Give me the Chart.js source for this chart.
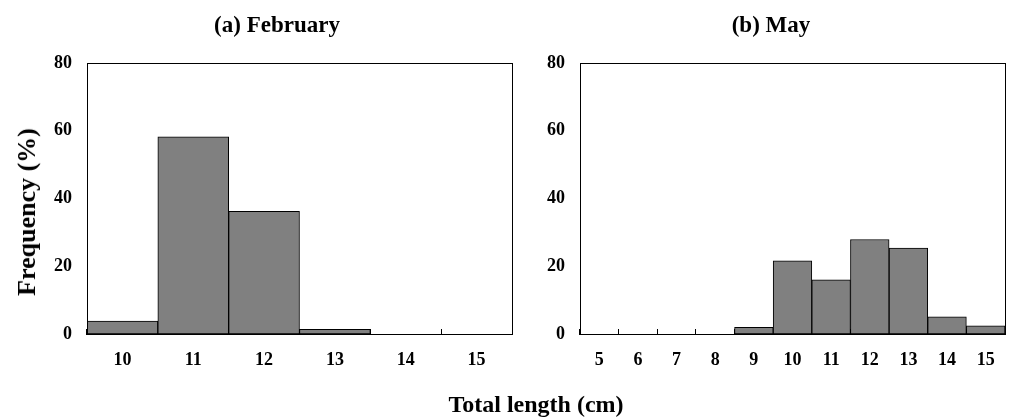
<!DOCTYPE html>
<html>
<head>
<meta charset="utf-8">
<script src="https://cdn.jsdelivr.net/npm/chart.js@4"></script>
<style>
  body { margin: 0; background: #fff; }
  #page { position: relative; width: 1010px; height: 419px; overflow: hidden; font-family: 'Liberation Serif', 'Times New Roman', serif; font-weight: bold; color: #000; }
  .box { position: absolute; top: 0; height: 419px; }
  .txt { position: absolute; white-space: nowrap; transform: translate(-50%, -50%); }
</style>
</head>
<body>
<div id="page">
  <div class="box" style="left:0; width:520px;"><canvas id="febChart"></canvas></div>
  <div class="box" style="left:520px; width:490px;"><canvas id="mayChart"></canvas></div>
  <div class="txt" style="left:277px; top:25px; font-size:23px;">(a) February</div>
  <div class="txt" style="left:771px; top:25px; font-size:23px;">(b) May</div>
  <div class="txt" style="left:536px; top:404px; font-size:24px;">Total length (cm)</div>
  <div class="txt" style="left:27px; top:212px; font-size:26px; transform: translate(-50%, -50%) rotate(-90deg);">Frequency (%)</div>
</div>
<script>
// length classes (cm) and frequency (%)
const febLengths = ['10', '11', '12', '13', '14', '15'];
const febFreq = [3.8, 58.2, 36.2, 1.4, 0, 0];

const mayLengths = ['5', '6', '7', '8', '9', '10', '11', '12', '13', '14', '15'];
const mayFreq = [0, 0, 0, 0, 2.0, 21.6, 16.0, 27.9, 25.4, 5.1, 2.4];

const yTicks = [0, 20, 40, 60, 80];

const tickFont = { family: "'Liberation Serif', 'Times New Roman', serif", size: 18, weight: 'bold' };

// full box around the plot area
const frame = {
    id: 'frame',
    afterDraw(chart) {
        const a = chart.chartArea;
        const ctx = chart.ctx;
        ctx.save();
        ctx.strokeStyle = '#000';
        ctx.lineWidth = 1;
        ctx.strokeRect(Math.round(a.left) + 0.5, Math.round(a.top) + 0.5,
            Math.round(a.right - a.left), Math.round(a.bottom - a.top));
        ctx.restore();
    }
};

function makeHisto(id, labels, values, yWidth, padRight) {
    const ctx = document.getElementById(id).getContext('2d');
    return new Chart(ctx, {
        type: 'bar',
        data: {
            labels,
            datasets: [{
                data: values,
                backgroundColor: '#808080',
                borderColor: '#000',
                borderWidth: 1,
                borderSkipped: false,
                categoryPercentage: 1.0,
                barPercentage: 1.0
            }]
        },
        options: {
            responsive: true,
            maintainAspectRatio: false,
            animation: false,
            layout: { padding: { left: 0, right: padRight, top: 63, bottom: 45 } },
            plugins: { legend: { display: false }, tooltip: { enabled: false } },
            scales: {
                x: {
                    offset: true,
                    grid: { display: true, offset: true, drawOnChartArea: false, drawTicks: true, tickLength: -5, color: '#000', lineWidth: 1 },
                    border: { display: true, color: '#000', width: 1 },
                    ticks: { color: '#000', font: tickFont, padding: 21, maxRotation: 0, autoSkip: false },
                    afterFit: s => { s.height = 40; s.paddingLeft = 0; s.paddingRight = 0; }
                },
                y: {
                    min: 0, max: 80,
                    grid: { display: false, drawTicks: false },
                    border: { display: true, color: '#000', width: 1 },
                    afterBuildTicks: s => { s.ticks = yTicks.map(v => ({ value: v })); },
                    ticks: { color: '#000', font: tickFont, padding: 15 },
                    afterFit: s => { s.width = yWidth; }
                }
            }
        },
        plugins: [frame]
    });
}

makeHisto('febChart', febLengths, febFreq, 87, 8);
makeHisto('mayChart', mayLengths, mayFreq, 60, 5);
</script>
</body>
</html>
